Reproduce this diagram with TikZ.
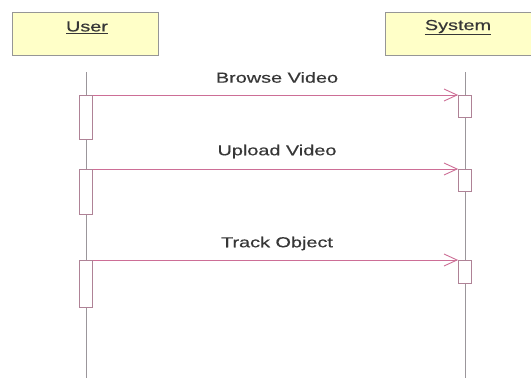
\documentclass[tikz,border=0pt]{standalone}
\usepackage{fontspec}
\newfontfamily\diagfont[FakeStretch=1.37,FakeBold=0.4]{Liberation Sans}
\usetikzlibrary{arrows.meta}
\definecolor{boxfill}{RGB}{255,255,200}
\definecolor{boxline}{RGB}{150,150,150}
\definecolor{txt}{RGB}{55,55,55}
\definecolor{lifeln}{RGB}{155,150,155}
\definecolor{msgln}{RGB}{205,110,150}
\definecolor{actline}{RGB}{175,130,150}
\tikzset{
  actorbox/.style={draw=boxline, fill=boxfill, line width=0.8pt, minimum width=146pt, minimum height=43pt, inner sep=0pt},
  actorlbl/.style={text=txt, font=\diagfont\fontsize{14.5}{17}\selectfont},
  lifeline/.style={draw=lifeln, line width=0.8pt},
  actbox/.style={draw=actline, fill=white, line width=0.8pt, minimum width=13pt, inner sep=0pt, anchor=north},
  msg/.style={draw=msgln, line width=0.8pt, -{Straight Barb[length=13pt,width=12pt,line width=0.9pt]}},
  msglbl/.style={text=txt, font=\diagfont\fontsize{14.5}{17}\selectfont}
}
\begin{document}
\begin{tikzpicture}[x=1pt,y=-1pt]
\useasboundingbox (0,0) rectangle (531,378);
\clip (0,0) rectangle (531,378);
\fill[white] (0,0) rectangle (531,378);
% actors
\node[actorbox] (user) at (85,33.5) {};
\node[actorlbl] (userlbl) at (87,27.5) {\underline{User}};
\node[actorbox] (system) at (458,33.5) {};
\node[actorlbl] (systemlbl) at (458,27.5) {\underline{System}};
% lifelines
\coordinate (ut) at (86,72);
\coordinate (ub) at (86,380);
\coordinate (st) at (465,72);
\coordinate (sb) at (465,380);
\draw[lifeline] (ut) -- (ub);
\draw[lifeline] (st) -- (sb);
% activation boxes
\node[actbox, minimum height=44pt] (ua1) at (86,95) {};
\node[actbox, minimum height=45pt] (ua2) at (86,169) {};
\node[actbox, minimum height=47pt] (ua3) at (86,260) {};
\node[actbox, minimum height=22pt] (sa1) at (465,95) {};
\node[actbox, minimum height=22pt] (sa2) at (465,169) {};
\node[actbox, minimum height=23pt] (sa3) at (465,260) {};
% messages
\draw[msg] (ua1.north east) -- (sa1.north west);
\draw[msg] (ua2.north east) -- (sa2.north west);
\draw[msg] (ua3.north east) -- (sa3.north west);
\node[msglbl] (m1) at (277,77.5) {Browse Video};
\node[msglbl] (m2) at (277,151.5) {Upload Video};
\node[msglbl] (m3) at (277,243.5) {Track Object};
\end{tikzpicture}
\end{document}
